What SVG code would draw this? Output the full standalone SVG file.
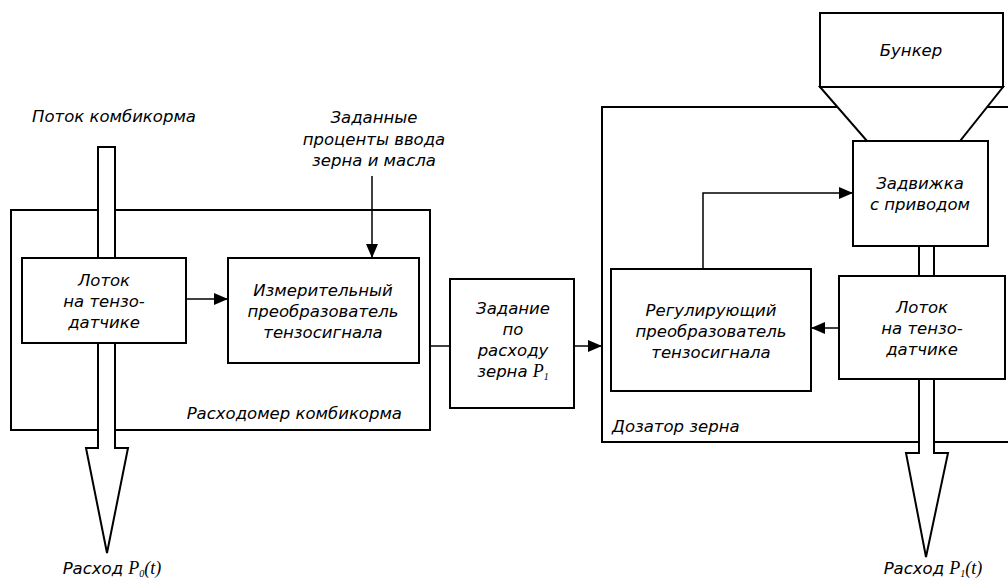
<svg xmlns="http://www.w3.org/2000/svg" width="1008" height="578" viewBox="0 0 1008 578">
<defs>
<marker id="ah" markerWidth="14" markerHeight="12" refX="14" refY="6" orient="auto" markerUnits="userSpaceOnUse">
<path d="M0,0 L14,6 L0,12 Z" fill="#000"/>
</marker>
<style>
.frame{fill:none;stroke:#000;stroke-width:2}
.box{fill:#fff;stroke:#000;stroke-width:2}
.tube{fill:#fff;stroke:#000;stroke-width:2;stroke-linejoin:miter}
.line{fill:none;stroke:#000;stroke-width:1.5}
text{font-family:"DejaVu Sans","Liberation Sans",sans-serif;font-style:italic;font-size:16.5px;fill:#000}
.c{text-anchor:middle}
.p{font-family:"Liberation Serif",serif;font-style:italic;font-size:18px}
.sub{font-family:"Liberation Serif",serif;font-size:10px}
</style>
</defs>
<rect width="1008" height="578" fill="#fff"/>

<g id="rashodomer">
<rect class="frame" x="11" y="210" width="419" height="220"/>
<text x="402" y="419" text-anchor="end">Расходомер комбикорма</text>
</g>
<g id="dozator">
<rect class="frame" x="602" y="107" width="420" height="335"/>
<text x="612" y="432">Дозатор зерна</text>
</g>

<g id="flow-left">
<path class="tube" d="M98,147 V448 H86 L107,553 L128,448 H115 V147 Z"/>
<text class="c" x="114" y="122">Поток комбикорма</text>
<text class="c" x="112" y="574">Расход <tspan class="p">P</tspan><tspan class="sub" dy="3">0</tspan><tspan class="p" dy="-3">(t)</tspan></text>
</g>

<g id="flow-right">
<path class="tube" d="M919,246 V453 H906 L926,557 L948,453 H934 V246 Z"/>
<text class="c" x="933" y="574">Расход <tspan class="p">P</tspan><tspan class="sub" dy="3">1</tspan><tspan class="p" dy="-3">(t)</tspan></text>
</g>

<g id="bunker">
<polygon class="box" points="820,87 1003,87 960,141 867,141"/>
<rect class="box" x="820" y="13" width="183" height="74"/>
<text class="c" x="911" y="56">Бункер</text>
</g>

<g id="lotok-left">
<rect class="box" x="22" y="258" width="164" height="85"/>
<text class="c" x="104" y="286">Лоток</text>
<text class="c" x="104" y="307">на тензо-</text>
<text class="c" x="104" y="328">датчике</text>
</g>

<g id="izmeritelny">
<rect class="box" x="228" y="258" width="191" height="105"/>
<text class="c" x="323" y="296">Измерительный</text>
<text class="c" x="323" y="317">преобразователь</text>
<text class="c" x="323" y="338">тензосигнала</text>
</g>

<g id="zadannye">
<text class="c" x="374" y="123">Заданные</text>
<text class="c" x="374" y="145">проценты ввода</text>
<text class="c" x="374" y="166">зерна и масла</text>
</g>

<g id="zadanie">
<rect class="box" x="450" y="279" width="124" height="129"/>
<text class="c" x="513" y="314">Задание</text>
<text class="c" x="513" y="335">по</text>
<text class="c" x="513" y="356">расходу</text>
<text class="c" x="513" y="377">зерна <tspan class="p">P</tspan><tspan class="sub" dy="3">1</tspan></text>
</g>

<g id="zadvizhka">
<rect class="box" x="853" y="141" width="135" height="105"/>
<text class="c" x="920" y="189">Задвижка</text>
<text class="c" x="920" y="210">с приводом</text>
</g>

<g id="reguliruyushchiy">
<rect class="box" x="611" y="269" width="200" height="122"/>
<text class="c" x="711" y="316">Регулирующий</text>
<text class="c" x="711" y="337">преобразователь</text>
<text class="c" x="711" y="358">тензосигнала</text>
</g>

<g id="lotok-right">
<rect class="box" x="839" y="276" width="166" height="103"/>
<text class="c" x="922" y="313">Лоток</text>
<text class="c" x="922" y="334">на тензо-</text>
<text class="c" x="922" y="355">датчике</text>
</g>

<g id="connectors">
<line class="line" x1="186" y1="299" x2="228" y2="299" marker-end="url(#ah)"/>
<line class="line" x1="372" y1="176" x2="372" y2="258" marker-end="url(#ah)"/>
<line class="line" x1="430" y1="346" x2="450" y2="346"/>
<line class="line" x1="574" y1="346" x2="602" y2="346" marker-end="url(#ah)"/>
<polyline class="line" points="703,269 703,193 853,193" marker-end="url(#ah)"/>
<line class="line" x1="839" y1="328" x2="811" y2="328" marker-end="url(#ah)"/>
</g>
</svg>
